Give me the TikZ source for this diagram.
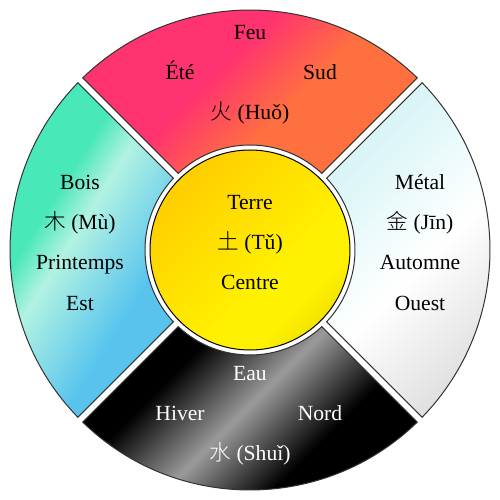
\documentclass[tikz,border=0pt]{standalone}
\usepackage{fontspec}
\setmainfont{Liberation Serif}
\newfontfamily\cjk{Noto Sans CJK SC Light}
\definecolor{feupink}{HTML}{FF3370}
\definecolor{feuorange}{HTML}{FF7040}
\definecolor{boisgreen}{HTML}{48E8B8}
\definecolor{boislight}{HTML}{B2F2E2}
\definecolor{boisblue}{HTML}{58C4EE}
\definecolor{metcyan}{HTML}{D6F4F6}
\definecolor{metgray}{HTML}{DCDCDC}
\definecolor{eaugray}{HTML}{9A9A9A}
\definecolor{terre1}{HTML}{FFD000}
\definecolor{terre2}{HTML}{FFF200}
\definecolor{terre3}{HTML}{E6D400}
\pgfdeclarehorizontalshading{feushade}{100bp}{color(0bp)=(feupink); color(34.4bp)=(feupink); color(42.2bp)=(feuorange); color(100bp)=(feuorange)}
\pgfdeclarehorizontalshading{boisshade}{100bp}{color(0bp)=(boisgreen); color(29.7bp)=(boisgreen); color(33.6bp)=(boislight); color(42.7bp)=(boisblue); color(100bp)=(boisblue)}
\pgfdeclarehorizontalshading{metshade}{100bp}{color(0bp)=(metcyan); color(50bp)=(metcyan); color(63.7bp)=(white); color(76.5bp)=(metgray); color(100bp)=(metgray)}
\pgfdeclarehorizontalshading{eaushade}{100bp}{color(0bp)=(black); color(53.5bp)=(black); color(61.5bp)=(eaugray); color(69.5bp)=(black); color(100bp)=(black)}
\pgfdeclarehorizontalshading{terreshade}{100bp}{color(0bp)=(terre1); color(28bp)=(terre1); color(60bp)=(terre2); color(68bp)=(terre2); color(82bp)=(terre3); color(100bp)=(terre3)}
\begin{document}
\begin{tikzpicture}[x=1pt,y=1pt,
  outline/.style={draw=black!80, line width=1pt},
  lbl/.style={anchor=base, inner sep=0pt, font=\fontsize{21.6}{26}\selectfont},
  wlbl/.style={lbl, text=white}]
\useasboundingbox (-250,-250) rectangle (250,250);
\pgfmathsetmacro{\dR}{asin(3.5/240)}
\pgfmathsetmacro{\dr}{asin(3.5/105)}
\def\secpath#1{({#1-45+\dR}:240) arc[start angle={#1-45+\dR}, end angle={#1+45-\dR}, radius=240]
    -- ({#1+45-\dr}:105) arc[start angle={#1+45-\dr}, end angle={#1-45+\dr}, radius=105] -- cycle}
\foreach \c/\sh/\ang in {90/feushade/-45, 180/boisshade/-32, 0/metshade/-45, 270/eaushade/-45}{
  \begin{scope}
    \clip \secpath{\c};
    \shade[shading=\sh, shading angle=\ang] (-240,-240) rectangle (240,240);
  \end{scope}
  \path[outline] \secpath{\c};
}
\path[outline, draw=black, shade, shading=terreshade, shading angle=-45] (0,0) circle[radius=100];
% top
\node[lbl] (feu) at (0,210) {Feu};
\node[lbl] (ete) at (-70,170) {Été};
\node[lbl] (sud) at (70,170) {Sud};
\node[lbl] (huo) at (0,130) {{\cjk 火} (Huǒ)};
% left
\node[lbl] (bois) at (-170,60) {Bois};
\node[lbl] (mu) at (-170,20) {{\cjk 木} (Mù)};
\node[lbl] (printemps) at (-170,-20) {Printemps};
\node[lbl] (est) at (-170,-60) {Est};
% right
\node[lbl] (metal) at (170,60) {Métal};
\node[lbl] (jin) at (170,20) {{\cjk 金} (Jīn)};
\node[lbl] (automne) at (170,-20) {Automne};
\node[lbl] (ouest) at (170,-60) {Ouest};
% centre
\node[lbl] (terre) at (0,40) {Terre};
\node[lbl] (tu) at (0,0) {{\cjk 土} (Tǔ)};
\node[lbl] (centre) at (0,-40) {Centre};
% bottom
\node[wlbl] (eau) at (0,-130) {Eau};
\node[wlbl] (hiver) at (-70,-170) {Hiver};
\node[wlbl] (nord) at (70,-170) {Nord};
\node[wlbl] (shui) at (0,-210) {{\cjk 水} (Shuǐ)};
\end{tikzpicture}
\end{document}
